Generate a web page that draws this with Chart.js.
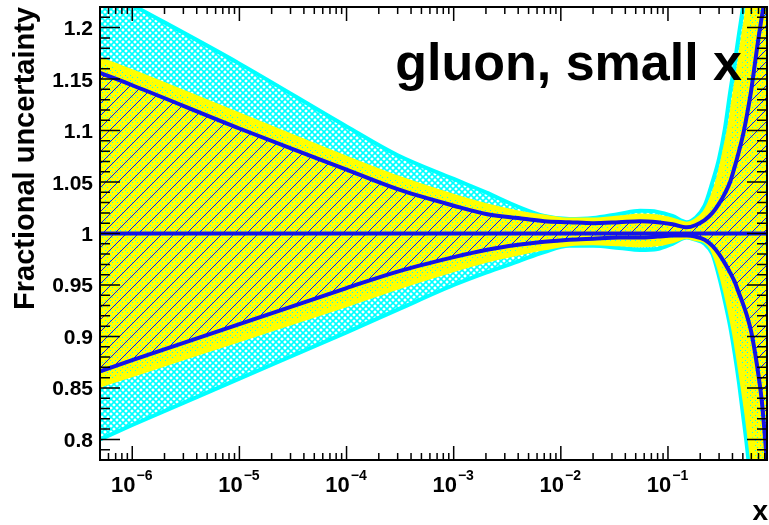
<!DOCTYPE html>
<html>
<head>
<meta charset="utf-8">
<script src="https://cdn.jsdelivr.net/npm/chart.js@4.4.1/dist/chart.umd.min.js"></script>
<style>
  html, body { margin: 0; padding: 0; background: #fff; }
  canvas { display: block; }
</style>
</head>
<body>
<canvas id="chart" width="769" height="525"></canvas>
<script>
// x grid (log scale) and the band edges
const xGrid = [5e-7, 1e-6, 1e-5, 1e-4, 3e-4, 1e-3, 2e-3, 4e-3, 7e-3, 0.012, 0.02, 0.035, 0.055, 0.08, 0.11, 0.15,
  0.18, 0.22, 0.26, 0.30, 0.34, 0.38, 0.42, 0.46, 0.50, 0.55, 0.60, 0.65, 0.70, 0.75, 0.80, 0.85];

const cyanUp = [1.239, 1.222, 1.165, 1.104, 1.076, 1.053, 1.040, 1.026, 1.017, 1.014, 1.015, 1.019, 1.022, 1.021, 1.017, 1.011,
  1.015, 1.027, 1.050, 1.073, 1.102, 1.137, 1.166, 1.194, 1.219, 1.25, 1.28, 1.31, 1.34, 1.37, 1.40, 1.43];
const cyanLow = [0.800, 0.814, 0.859, 0.904, 0.926, 0.950, 0.962, 0.973, 0.982, 0.988, 0.988, 0.986, 0.984, 0.985, 0.990, 0.996,
  0.994, 0.990, 0.980, 0.958, 0.934, 0.910, 0.883, 0.855, 0.825, 0.79, 0.75, 0.71, 0.67, 0.63, 0.59, 0.55];

const yellowUp = [1.169, 1.157, 1.115, 1.073, 1.054, 1.036, 1.027, 1.020, 1.016, 1.013, 1.013, 1.015, 1.017, 1.016, 1.013, 1.009,
  1.012, 1.020, 1.035, 1.055, 1.080, 1.105, 1.135, 1.160, 1.187, 1.215, 1.245, 1.27, 1.30, 1.33, 1.36, 1.39];
const yellowLow = [0.853, 0.863, 0.897, 0.931, 0.948, 0.965, 0.974, 0.981, 0.986, 0.990, 0.991, 0.990, 0.989, 0.990, 0.993, 0.997,
  0.995, 0.993, 0.985, 0.968, 0.947, 0.925, 0.902, 0.877, 0.852, 0.822, 0.79, 0.76, 0.73, 0.70, 0.67, 0.64];

const blueUp = [1.156, 1.144, 1.102, 1.062, 1.043, 1.027, 1.019, 1.015, 1.012, 1.011, 1.010, 1.011, 1.012, 1.011, 1.009, 1.006,
  1.008, 1.013, 1.020, 1.029, 1.039, 1.050, 1.065, 1.080, 1.095, 1.117, 1.140, 1.166, 1.190, 1.210, 1.228, 1.245];
const blueLow = [0.866, 0.877, 0.912, 0.947, 0.963, 0.977, 0.984, 0.989, 0.992, 0.994, 0.995, 0.996, 0.996, 0.997, 0.998, 0.998,
  0.997, 0.994, 0.988, 0.980, 0.971, 0.962, 0.953, 0.942, 0.932, 0.919, 0.904, 0.884, 0.862, 0.838, 0.805, 0.77];

const central = 1;

const yTicks = [0.8, 0.85, 0.9, 0.95, 1, 1.05, 1.1, 1.15, 1.2];
const xTickExps = [-6, -5, -4, -3, -2, -1];

const X_MIN = 5e-7, X_MAX = 0.84;
const Y_MIN = 0.78, Y_MAX = 1.22;

const CYAN = '#00ffff';
const YELLOW = '#ffff00';
const BLUE = '#1414e6';
const FONT = '"Liberation Sans", Arial, Helvetica, sans-serif';

function series(vals) {
  return xGrid.map((x, i) => ({ x: x, y: vals[i] }));
}

// hatch patterns, ROOT style
function crossHatch(color, s, lw) {
  const c = document.createElement('canvas');
  c.width = c.height = s;
  const g = c.getContext('2d');
  g.strokeStyle = color;
  g.lineWidth = lw;
  g.beginPath();
  g.moveTo(-1, -1); g.lineTo(s + 1, s + 1);
  g.moveTo(s + 1, -1); g.lineTo(-1, s + 1);
  g.stroke();
  return g.createPattern(c, 'repeat');
}

// yellow with a sparse cyan dot grid showing through
function dottedFill(bg, dot, s) {
  const c = document.createElement('canvas');
  c.width = c.height = s;
  const g = c.getContext('2d');
  g.fillStyle = bg;
  g.fillRect(0, 0, s, s);
  g.fillStyle = dot;
  g.fillRect(0, 0, 1, 1);
  g.fillRect(Math.floor(s / 2), Math.floor(s / 2), 1, 1);
  return g.createPattern(c, 'repeat');
}

function diagHatch(color, s, lw) {
  const c = document.createElement('canvas');
  c.width = c.height = s;
  const g = c.getContext('2d');
  g.strokeStyle = color;
  g.lineWidth = lw;
  g.beginPath();
  g.moveTo(-1, s + 1); g.lineTo(s + 1, -1);
  g.moveTo(-1, 1); g.lineTo(1, -1);
  g.moveTo(s - 1, s + 1); g.lineTo(s + 1, s - 1);
  g.stroke();
  return g.createPattern(c, 'repeat');
}

const cyanPattern = crossHatch(CYAN, 6, 1.6);
const yellowPattern = dottedFill(YELLOW, CYAN, 5);
const bluePattern = diagHatch(BLUE, 12, 1);

function edge(vals, color, width) {
  return { data: series(vals), borderColor: color, borderWidth: width, fill: false, clip: 0 };
}

function band(vals, target, pattern) {
  return { data: series(vals), borderWidth: 0, borderColor: 'rgba(0,0,0,0)', backgroundColor: pattern, fill: target, clip: 0 };
}

const rootAxes = {
  id: 'rootAxes',
  afterDraw(chart) {
    const ctx = chart.ctx;
    const a = chart.chartArea;
    const sx = chart.scales.x, sy = chart.scales.y;
    ctx.save();
    ctx.strokeStyle = '#000';
    ctx.fillStyle = '#000';

    // ticks, pointing inwards on all four sides
    ctx.lineWidth = 1.5;
    ctx.beginPath();
    for (let k = Math.round(Y_MIN * 100); k <= Math.round(Y_MAX * 100); k++) {
      const py = sy.getPixelForValue(k / 100);
      const len = k % 5 === 0 ? 20 : 10;
      ctx.moveTo(a.left, py); ctx.lineTo(a.left + len, py);
      ctx.moveTo(a.right, py); ctx.lineTo(a.right - len, py);
    }
    for (let e = -7; e <= 0; e++) {
      for (let m = 1; m <= 9; m++) {
        const v = m * Math.pow(10, e);
        if (v < X_MIN || v > X_MAX) continue;
        const px = sx.getPixelForValue(v);
        const len = m === 1 ? 14 : 7;
        ctx.moveTo(px, a.bottom); ctx.lineTo(px, a.bottom - len);
        ctx.moveTo(px, a.top); ctx.lineTo(px, a.top + len);
      }
    }
    ctx.stroke();

    ctx.lineWidth = 2;
    ctx.strokeRect(a.left, a.top, a.right - a.left, a.bottom - a.top);

    // y tick labels
    ctx.font = 'bold 21px ' + FONT;
    ctx.textAlign = 'right';
    ctx.textBaseline = 'alphabetic';
    yTicks.forEach(v => {
      ctx.fillText(String(v), 93, sy.getPixelForValue(v) + 7.5);
    });

    // x tick labels 10^n
    ctx.textAlign = 'left';
    xTickExps.forEach(n => {
      const px = sx.getPixelForValue(Math.pow(10, n));
      const base = '10', sup = '\u2212' + Math.abs(n);
      ctx.font = 'bold 22px ' + FONT;
      const w1 = ctx.measureText(base).width;
      ctx.font = 'bold 14px ' + FONT;
      const w2 = ctx.measureText(sup).width;
      const x0 = px - (w1 + w2) / 2 - 1;
      ctx.font = 'bold 22px ' + FONT;
      ctx.fillText(base, x0, 492);
      ctx.font = 'bold 14px ' + FONT;
      ctx.fillText(sup, x0 + w1 + 1, 480);
    });

    // axis titles
    ctx.font = 'bold 28px ' + FONT;
    ctx.textAlign = 'right';
    ctx.fillText('x', 768, 520);

    ctx.save();
    ctx.translate(34, 7);
    ctx.rotate(-Math.PI / 2);
    ctx.font = 'bold 29px ' + FONT;
    ctx.textAlign = 'right';
    ctx.fillText('Fractional uncertainty', 0, 0);
    ctx.restore();

    // plot label
    ctx.font = 'bold 52px ' + FONT;
    ctx.textAlign = 'right';
    ctx.fillText('gluon, small x', 742, 80);
    ctx.restore();
  }
};

new Chart(document.getElementById('chart'), {
  type: 'line',
  data: {
    datasets: [
      { data: [{ x: xGrid[0], y: central }, { x: xGrid[xGrid.length - 1], y: central }], borderColor: BLUE, borderWidth: 4, fill: false, clip: 0 },
      edge(blueUp, BLUE, 4),
      edge(blueLow, BLUE, 4),
      edge(yellowUp, YELLOW, 5),
      edge(yellowLow, YELLOW, 5),
      edge(cyanUp, CYAN, 4),
      edge(cyanLow, CYAN, 4),
      band(blueUp, 2, bluePattern),
      band(yellowUp, 4, yellowPattern),
      band(cyanUp, 6, cyanPattern),
    ]
  },
  options: {
    responsive: false,
    animation: false,
    devicePixelRatio: 1,
    layout: { padding: { left: 100, right: 2, top: 7, bottom: 65 } },
    scales: {
      x: { type: 'logarithmic', min: X_MIN, max: X_MAX, display: false },
      y: { type: 'linear', min: Y_MIN, max: Y_MAX, display: false }
    },
    elements: {
      point: { radius: 0 },
      line: { cubicInterpolationMode: 'monotone' }
    },
    plugins: {
      legend: { display: false },
      tooltip: { enabled: false },
      filler: { drawTime: 'beforeDatasetsDraw' }
    }
  },
  plugins: [rootAxes]
});
</script>
</body>
</html>
